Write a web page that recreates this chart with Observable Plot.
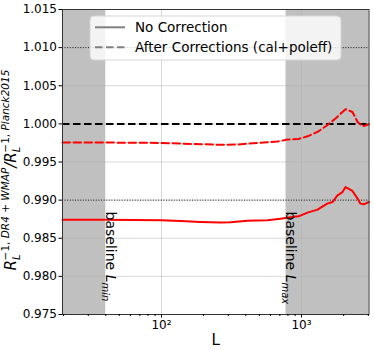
<!DOCTYPE html>
<html><head><meta charset="utf-8">
<script src="https://cdn.jsdelivr.net/npm/d3@7"></script>
<script src="https://cdn.jsdelivr.net/npm/@observablehq/plot@0.6"></script>
<style>body{margin:0;background:#fff;font-family:"DejaVu Sans",sans-serif}</style>
</head><body><div id="chart"></div>
<script>
// Data
const L_noCorr = [19.63, 40, 100, 137, 190, 264, 311, 411, 571, 708, 834, 952, 1104, 1301, 1527, 1664, 1807, 1963, 2062, 2311, 2514, 2636, 2772, 3034];
const R_noCorr = [0.98744, 0.98742, 0.98735, 0.98726, 0.98713, 0.98705, 0.98709, 0.98731, 0.98735, 0.98757, 0.98774, 0.98787, 0.98836, 0.98875, 0.98954, 0.98975, 0.99063, 0.99106, 0.99172, 0.99120, 0.99020, 0.98954, 0.98945, 0.98975];
const L_corr = [19.63, 40, 100, 137, 264, 349, 535, 674, 794, 952, 1104, 1301, 1527, 1749, 2062, 2311, 2514, 2728, 3034];
const R_corr = [0.99755, 0.99755, 0.99750, 0.99742, 0.99725, 0.99730, 0.99755, 0.99768, 0.99794, 0.99802, 0.99837, 0.99894, 0.99982, 1.00070, 1.00192, 1.00156, 1.00025, 0.99969, 0.99995];
const xDomain = [19.63, 3034];
const yDomain = [0.975, 1.015];
const shadeStart = [19.63, 775];
const shadeEnd = [40, 3034];
const yTicks = [0.975, 0.980, 0.985, 0.990, 0.995, 1.000, 1.005, 1.010, 1.015];
const xMajor = [100, 1000];
const xMajorLabels = ["10²", "10³"];
const xMinor = [20, 30, 40, 50, 60, 70, 80, 90, 200, 300, 400, 500, 600, 700, 800, 900, 2000, 3000];
const dottedRefs = [0.990, 1.010];
const dashedRefs = [1.000];
const baselineL = [40, 775];
const baselineSub = ["min", "max"];
const legendLabels = ["No Correction", "After Corrections (cal+poleff)"];

const noCorr = L_noCorr.map((L, i) => ({L, R: R_noCorr[i]}));
const corr = L_corr.map((L, i) => ({L, R: R_corr[i]}));
const shades = shadeStart.map((s, i) => ({x1: s, x2: shadeEnd[i]}));
const baselines = baselineL.map((L, i) => ({L, sub: baselineSub[i]}));

const chart = Plot.plot({
  width: 374, height: 351,
  marginLeft: 62, marginRight: 5.5, marginTop: 9, marginBottom: 37,
  style: {fontFamily: "DejaVu Sans", fontSize: "12px", color: "#000", background: "#fff"},
  x: {type: "log", domain: xDomain},
  y: {domain: yDomain},
  marks: [
    Plot.rect(shades, {x1: "x1", x2: "x2", y1: yDomain[0], y2: yDomain[1], fill: "#c0c0c0"}),
    Plot.gridX(xMajor, {stroke: "#b0b0b0", strokeOpacity: 0.55, strokeWidth: 0.9}),
    Plot.gridY(yTicks, {stroke: "#b0b0b0", strokeOpacity: 0.55, strokeWidth: 0.9}),
    Plot.ruleY(dottedRefs, {stroke: "#000", strokeWidth: 1, strokeDasharray: "1,1.6", strokeOpacity: 0.85}),
    Plot.ruleY(dashedRefs, {stroke: "#000", strokeWidth: 2, strokeDasharray: "7.5,3.5"}),
    Plot.line(noCorr, {x: "L", y: "R", stroke: "red", strokeWidth: 2}),
    Plot.line(corr, {x: "L", y: "R", stroke: "red", strokeWidth: 2, strokeDasharray: "7.5,3.5"}),
    Plot.text(baselines, {x: "L", y: 0.9885, text: d => "baseline L_" + d.sub, rotate: 90,
      textAnchor: "start", lineAnchor: "bottom", fontSize: 14, fill: "#000", dy: 0}),
    Plot.frame({stroke: "#333", strokeWidth: 1}),
    Plot.axisY(yTicks, {tickFormat: d3.format(".3f"), tickSize: 3.5, tickPadding: 2, label: null, fontSize: 12}),
    Plot.axisX(xMajor, {tickFormat: d => xMajorLabels[xMajor.indexOf(d)], tickSize: 3.5, tickPadding: 2, label: null, fontSize: 12}),
    Plot.axisX(xMinor, {tickFormat: () => "", tickSize: 2, label: null}),
    Plot.text(["L"], {frameAnchor: "bottom", text: d => d, dy: 30, fontSize: 15, fill: "#000"})
  ]
});
document.getElementById("chart").append(chart);

const svg = d3.select(chart);
// Rich text for baseline labels
svg.selectAll("text").each(function() {
  const t = d3.select(this);
  const s = this.textContent;
  if (s.startsWith("baseline L_")) {
    const sub = s.slice("baseline L_".length);
    t.text(null);
    t.append("tspan").text("baseline ");
    t.append("tspan").attr("font-style", "italic").text("L");
    t.append("tspan").attr("font-style", "italic").attr("font-size", 10).attr("dy", 4).text(sub);
  }
});

// Y-axis label (mathtext-like)
const yl = svg.append("text")
  .attr("transform", "translate(16,170) rotate(-90)")
  .attr("text-anchor", "middle")
  .attr("font-size", 15)
  .attr("fill", "#000");
yl.append("tspan").attr("font-style", "italic").text("R");
yl.append("tspan").attr("font-style", "italic").attr("font-size", 10).attr("dy", 4).text("L");
yl.append("tspan").attr("font-size", 10.5).attr("dx", -6).attr("dy", -11).text("−1, ")
yl.append("tspan").attr("font-size", 10.5).attr("font-style", "italic").text("DR4 + WMAP");
yl.append("tspan").attr("dy", 7).attr("font-style", "italic").text("/R");
yl.append("tspan").attr("font-style", "italic").attr("font-size", 10).attr("dy", 4).text("L");
yl.append("tspan").attr("font-size", 10.5).attr("dx", -6).attr("dy", -11).text("−1, ");
yl.append("tspan").attr("font-size", 10.5).attr("font-style", "italic").text("Planck2015");

// Legend
const lg = svg.append("g").attr("transform", "translate(90,16)");
lg.append("rect").attr("width", 251).attr("height", 44).attr("rx", 4)
  .attr("fill", "#fff").attr("fill-opacity", 0.8).attr("stroke", "#d5d5d5");
legendLabels.forEach((lab, i) => {
  const y = 11.3 + i * 20;
  lg.append("line").attr("x1", 5).attr("x2", 35).attr("y1", y).attr("y2", y)
    .attr("stroke", "#808080").attr("stroke-width", 2)
    .attr("stroke-dasharray", i === 1 ? "7.5,3.5" : null);
  lg.append("text").attr("x", 45).attr("y", y + 5).attr("text-anchor", "start")
    .attr("font-size", 13.5).attr("fill", "#000").text(lab);
});
</script>
</body></html>
